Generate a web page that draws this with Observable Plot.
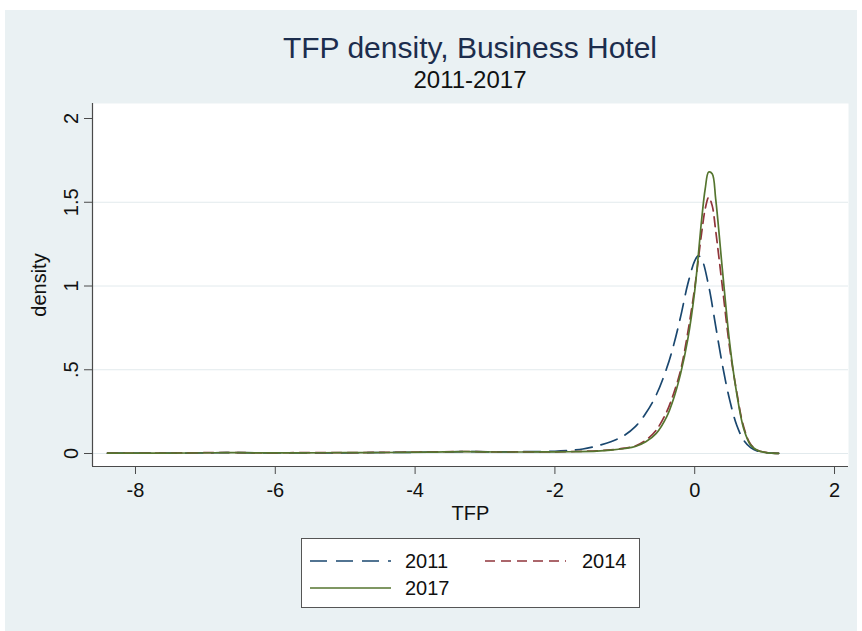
<!DOCTYPE html>
<html>
<head>
<meta charset="utf-8">
<script src="https://cdn.jsdelivr.net/npm/d3@7"></script>
<script src="https://cdn.jsdelivr.net/npm/@observablehq/plot@0.6"></script>
<style>
html, body { margin: 0; padding: 0; background: #fff; width: 862px; height: 631px; overflow: hidden;
  font-family: "Liberation Sans", Arial, sans-serif; }
#bg { position: absolute; left: 5px; top: 10px; width: 852px; height: 621px; background: #eaf1f3; }
#title { position: absolute; left: 0; width: 940px; top: 33px; text-align: center; font-size: 30px; line-height: 30px; color: #1c2d4d; }
#subtitle { position: absolute; left: 0; width: 940px; top: 68px; text-align: center; font-size: 24px; line-height: 24px; color: #111; }
#chart { position: absolute; left: 0; top: 95px; }
#legend { position: absolute; left: 301px; top: 538px; width: 337px; height: 68px; border: 1px solid #555; background: #fff; }
.entry { position: absolute; height: 20px; }
.entry svg { position: absolute; left: 0; top: 0; }
.entry span { position: absolute; top: 0; font-size: 20px; line-height: 20px; color: #111; white-space: nowrap; }
</style>
</head>
<body>
<div id="bg"></div>
<div id="title">TFP density, Business Hotel</div>
<div id="subtitle">2011-2017</div>
<div id="chart"></div>
<div id="legend"></div>
<script>
// ---- data ----
const years = ["2011", "2014", "2017"];
const colors = ["#1a476f", "#90353b", "#55752f"];
const dashes = ["17,9", "10,6", null];

const x2011 = [-8.4,-7.8,-7.2,-6.7,-6.2,-5.6,-5.0,-4.4,-3.8,-3.3,-2.8,-2.4,-2.0,-1.8,-1.6,-1.4,-1.2,-1.0,-0.85,-0.7,-0.55,-0.4,-0.3,-0.2,-0.1,0.0,0.05,0.1,0.2,0.3,0.4,0.5,0.6,0.7,0.8,0.9,1.0,1.1,1.2];
const d2011 = [0.002,0.002,0.003,0.005,0.004,0.004,0.004,0.006,0.008,0.011,0.010,0.011,0.013,0.018,0.027,0.045,0.070,0.110,0.160,0.240,0.350,0.510,0.650,0.820,1.010,1.150,1.180,1.160,1.000,0.760,0.520,0.320,0.170,0.080,0.035,0.014,0.006,0.002,0.001];

const x2014 = [-8.4,-7.8,-7.2,-6.7,-6.2,-5.6,-5.0,-4.4,-3.8,-3.3,-2.8,-2.4,-2.0,-1.7,-1.4,-1.2,-1.0,-0.85,-0.7,-0.55,-0.4,-0.3,-0.2,-0.1,0.0,0.1,0.15,0.2,0.25,0.3,0.4,0.5,0.6,0.7,0.8,0.9,1.0,1.1,1.2];
const d2014 = [0.002,0.002,0.004,0.006,0.004,0.005,0.005,0.007,0.009,0.012,0.009,0.010,0.010,0.012,0.016,0.022,0.032,0.045,0.080,0.140,0.250,0.360,0.500,0.720,0.990,1.320,1.460,1.530,1.480,1.330,0.980,0.630,0.370,0.160,0.055,0.020,0.008,0.003,0.001];

const x2017 = [-8.4,-7.8,-7.2,-6.7,-6.2,-5.6,-5.0,-4.4,-3.8,-3.3,-2.8,-2.4,-2.0,-1.7,-1.4,-1.2,-1.0,-0.85,-0.7,-0.55,-0.4,-0.3,-0.2,-0.1,0.0,0.1,0.15,0.2,0.25,0.3,0.4,0.5,0.6,0.7,0.8,0.9,1.0,1.1,1.2];
const d2017 = [0.002,0.002,0.003,0.005,0.004,0.004,0.005,0.006,0.008,0.011,0.009,0.009,0.010,0.011,0.014,0.020,0.030,0.042,0.070,0.120,0.220,0.330,0.480,0.680,0.970,1.400,1.580,1.680,1.670,1.520,1.080,0.660,0.360,0.150,0.050,0.018,0.007,0.002,0.001];

const xTicks = [-8, -6, -4, -2, 0, 2];
const xTickLabels = ["-8", "-6", "-4", "-2", "0", "2"];
const yTicks = [0, 0.5, 1, 1.5, 2];
const yTickLabels = ["0", ".5", "1", "1.5", "2"];
const yGrid = [0, 0.5, 1, 1.5];
const xTitle = "TFP";
const yTitle = "density";

// ---- build tables ----
const xs = [x2011, x2014, x2017];
const ds = [d2011, d2014, d2017];
const tables = years.map((yr, i) => xs[i].map((x, j) => ({year: yr, x, y: ds[i][j]})));

const xDomain = [-8.615, 2.2];
const yDomain = [-0.0776, 2.0896];
const axisColor = "#4a4a4a";
const font = "'Liberation Sans', Arial, sans-serif";

const lineMarks = tables.map((t, i) => Plot.line(t, {
  x: "x", y: "y", stroke: colors[i], strokeWidth: 1.7,
  strokeDasharray: dashes[i] || undefined, curve: "catmull-rom"
}));

const chart = Plot.plot({
  width: 862, height: 430,
  marginLeft: 92, marginRight: 14, marginTop: 8, marginBottom: 59,
  x: {domain: xDomain},
  y: {domain: yDomain},
  style: {background: "transparent", fontFamily: font, fontSize: "20px", color: "#111", overflow: "visible"},
  marks: [
    Plot.frame({fill: "white", stroke: "none"}),
    Plot.ruleY(yGrid, {stroke: "#e2eaed", strokeWidth: 1}),
    Plot.ruleX([xDomain[0]], {stroke: axisColor, strokeWidth: 1.2}),
    Plot.ruleY([yDomain[0]], {stroke: axisColor, strokeWidth: 1.2}),
    Plot.axisX({
      ticks: xTicks, tickFormat: (d) => xTickLabels[xTicks.indexOf(d)],
      tickSize: 8, tickPadding: 8, stroke: axisColor, fill: "#111", fontSize: 20,
      label: xTitle, labelAnchor: "center", labelOffset: 53, labelArrow: "none"
    }),
    Plot.axisY({
      ticks: yTicks, tickFormat: (d) => yTickLabels[yTicks.indexOf(d)],
      tickSize: 8, tickPadding: 7, tickRotate: -90, stroke: axisColor, fill: "#111", fontSize: 20,
      label: yTitle, labelAnchor: "center", labelOffset: 61, labelArrow: "none"
    }),
    ...lineMarks
  ]
});
document.getElementById("chart").appendChild(chart);

// ---- legend ----
const legendPos = [
  {left: 8, top: 12, textLeft: 95},
  {left: 183, top: 12, textLeft: 97},
  {left: 8, top: 39, textLeft: 95}
];
const legend = document.getElementById("legend");
years.forEach((yr, i) => {
  const p = legendPos[i];
  const div = document.createElement("div");
  div.className = "entry";
  div.style.left = p.left + "px";
  div.style.top = p.top + "px";
  div.style.width = "160px";
  const svg = d3.create("svg").attr("width", 82).attr("height", 20);
  svg.append("line").attr("x1", 0).attr("x2", 81).attr("y1", 10).attr("y2", 10)
    .attr("stroke", colors[i]).attr("stroke-width", 1.7)
    .attr("stroke-dasharray", dashes[i] || null);
  div.appendChild(svg.node());
  const span = document.createElement("span");
  span.style.left = p.textLeft + "px";
  span.textContent = yr;
  div.appendChild(span);
  legend.appendChild(div);
});
</script>
</body>
</html>
